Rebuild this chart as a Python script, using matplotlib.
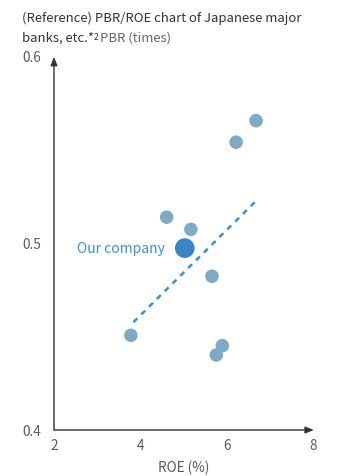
import matplotlib
matplotlib.use("Agg")
import matplotlib.pyplot as plt

plt.rcParams['font.family'] = ['Noto Sans CJK JP', 'DejaVu Sans']

# Peer banks: ROE (%) and PBR (times)
peer_roe = [6.68, 6.22, 4.61, 5.17, 5.66, 3.78, 5.90, 5.76]
peer_pbr = [0.565, 0.5535, 0.5135, 0.5070, 0.4820, 0.4505, 0.4450, 0.4400]

# Our company
own_roe = [5.03]
own_pbr = [0.497]

# Trend line end points
trend_roe = [3.84, 6.74]
trend_pbr = [0.4575, 0.5235]

x_ticks = [2, 4, 6, 8]
y_ticks = [0.4, 0.5, 0.6]
y_tick_labels = ["0.4", "0.5", "0.6"]

fig = plt.figure(figsize=(3.42, 4.77), dpi=100)
ax = fig.add_axes([54 / 342, 46 / 477, 259 / 342, 375 / 477])
ax.set_xlim(2, 8)
ax.set_ylim(0.4, 0.6)
for s in ax.spines.values():
    s.set_visible(False)

tick_color = "#5a5a5a"
ax.set_xticks(x_ticks)
ax.set_xticklabels([str(t) for t in x_ticks])
ax.set_yticks(y_ticks)
ax.set_yticklabels(y_tick_labels)
ax.tick_params(length=0, colors=tick_color, labelsize=9.8)
ax.tick_params(axis='x', pad=6)
ax.tick_params(axis='y', pad=9)

# Axes with arrow heads
ax.annotate("", xy=(8.02, 0.4), xytext=(2, 0.4), xycoords='data',
            arrowprops=dict(arrowstyle="-|>,head_length=0.5,head_width=0.2",
                            color="#333333", lw=1.0, shrinkA=0, shrinkB=0),
            annotation_clip=False)
ax.annotate("", xy=(2, 0.599), xytext=(2, 0.4), xycoords='data',
            arrowprops=dict(arrowstyle="-|>,head_length=0.5,head_width=0.2",
                            color="#333333", lw=1.0, shrinkA=0, shrinkB=0),
            annotation_clip=False)

ax.plot(trend_roe, trend_pbr, linestyle=(0, (2.2, 2.2)), color="#3b8fd0", lw=1.8, zorder=2)
ax.scatter(peer_roe, peer_pbr, s=95, color="#7eaac6", edgecolors="none", zorder=3)
ax.scatter(own_roe, own_pbr, s=200, color="#3a83c6", edgecolors="none", zorder=4)
ax.text(own_roe[0] - 0.45, own_pbr[0], "Our company", color="#3a8fd0",
        fontsize=10, ha="right", va="center")

ax.set_xlabel("ROE (%)", color=tick_color, fontsize=9.8, labelpad=5)

# Title lines
fig.text(22 / 342, 1 - 18 / 477, "(Reference) PBR/ROE chart of Japanese major",
         fontsize=9.45, color="#333333", va="center", ha="left")
t = fig.text(22 / 342, 1 - 38 / 477, "banks, etc.*", fontsize=9.45, color="#333333",
             va="center", ha="left")
fig.canvas.draw()
r = fig.canvas.get_renderer()
bb = t.get_window_extent(r)
x1 = bb.x1 / fig.bbox.width
t2 = fig.text(x1, 1 - 37 / 477, "2", fontsize=6, color="#333333", va="center", ha="left")
bb2 = t2.get_window_extent(r)
fig.text(bb2.x1 / fig.bbox.width + 0.004, 1 - 38 / 477, "PBR (times)", fontsize=9.45,
         color="#666666", va="center", ha="left")

fig.savefig("out.png", dpi=100)
